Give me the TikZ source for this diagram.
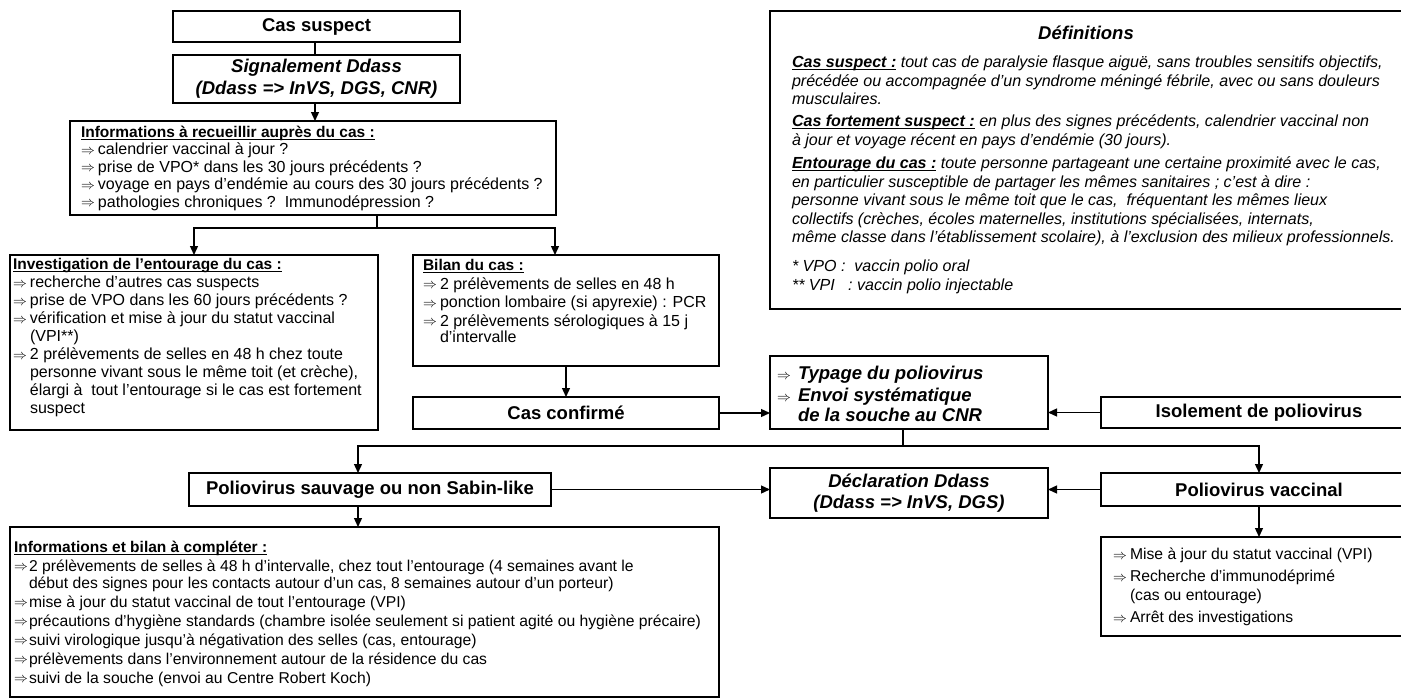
\documentclass[tikz,border=0pt]{standalone}
\usepackage{fontspec}
\setmainfont{Liberation Sans}
\usetikzlibrary{arrows.meta}
\newcommand\Hd{\fontsize{18.5}{21}\selectfont\bfseries}
\newcommand\Ra[1][17pt]{\makebox[#1][l]{\fontsize{16}{16}\selectfont\raisebox{0.5pt}{\scalebox{0.8}{$\Rightarrow$}}}}
\newcommand\ind{\hspace*{17pt}}
\newsavebox\ulbox
\newcommand\myul[1]{\sbox\ulbox{#1}\rlap{\rule[-2.2pt]{\wd\ulbox}{0.9pt}}\usebox\ulbox}
\newcommand\hdul[1]{{\fontsize{15.5}{15.5}\selectfont\bfseries\myul{#1}}}
\newcommand\dul[1]{\myul{\textbf{#1}}}
\tikzset{
  bx/.style={draw, line width=1.3pt, inner sep=0pt, outer sep=0pt, anchor=north west},
  ln/.style={line width=1.3pt},
  arr/.style={line width=1.3pt, -{Triangle[length=9pt,width=8pt]}},
}
\begin{document}
\begin{tikzpicture}[x=1pt,y=-1pt]
\fill[white] (0,0) rectangle (1401,699);
\useasboundingbox (0,0) rectangle (1401,699);

% helper coordinates
\coordinate (c315) at (315,0);
\coordinate (c555) at (555,0);
\coordinate (c358) at (358,0);
\coordinate (jA) at (377,228);
\coordinate (jB) at (903,446);

\node[bx, minimum width=287pt, minimum height=31pt, font=\Hd] (cs) at (173,11) {Cas suspect};
\node[bx, minimum width=287pt, minimum height=48pt, font=\Hd\itshape, align=center] (sig) at (173,55) {Signalement Ddass\\[1pt](Ddass => InVS, DGS, CNR)};

\node[bx, inner xsep=11pt] (info) at (70,121) {\parbox[c][94pt][t]{464pt}{\fontsize{16}{17.5}\selectfont
\begin{tabular}[t]{@{}l@{}}
\rule{0pt}{16.4pt}\hdul{Informations à recueillir auprès du cas :}\\
\Ra calendrier vaccinal à jour ?\\
\Ra prise de VPO* dans les 30 jours précédents ?\\
\Ra voyage en pays d’endémie au cours des 30 jours précédents ?\\
\Ra pathologies chroniques ?\ \ Immunodépression ?
\end{tabular}}};

\node[bx, inner xsep=3pt] (inv) at (10,255) {\parbox[c][175pt][t]{362pt}{\fontsize{16}{18}\selectfont
\begin{tabular}[t]{@{}l@{}}
\rule{0pt}{14.6pt}\hdul{Investigation de l’entourage du cas :}\\
\Ra recherche d’autres cas suspects\\
\Ra prise de VPO dans les 60 jours précédents ?\\
\Ra vérification et mise à jour du statut vaccinal\\
\ind (VPI**)\\
\Ra 2 prélèvements de selles en 48 h chez toute\\
\ind personne vivant sous le même toit (et crèche),\\
\ind élargi à\ \ tout l’entourage si le cas est fortement\\
\ind suspect
\end{tabular}}};

\node[bx, inner xsep=10pt] (bil) at (413,255) {\parbox[c][111pt][t]{286pt}{\fontsize{16}{16.5}\selectfont
\begin{tabular}[t]{@{}l@{}}
\rule{0pt}{15.4pt}\hdul{Bilan du cas :}\\[2pt]
\Ra 2 prélèvements de selles en 48 h\\[2pt]
\Ra ponction lombaire (si apyrexie) : PCR\\[2pt]
\Ra 2 prélèvements sérologiques à 15 j\\
\ind d’intervalle
\end{tabular}}};

\node[bx, minimum width=306pt, minimum height=32pt, font=\Hd] (conf) at (413,397) {Cas confirmé};

\node[bx, inner xsep=7pt] (typ) at (770,356) {\parbox[c][73pt][t]{264pt}{\fontsize{18.5}{19.5}\selectfont\bfseries\itshape
\begin{tabular}[t]{@{}l@{}}
\rule{0pt}{23.7pt}\Ra[21pt]Typage du poliovirus\\[2.5pt]
\Ra[21pt]Envoi systématique\\
\hspace*{21pt}de la souche au CNR
\end{tabular}}};

\node[bx, minimum width=316pt, minimum height=31pt, font=\Hd] (iso) at (1101,397) {Isolement de poliovirus};

\node[bx, inner xsep=22pt] (def) at (770,11) {\parbox[c][298pt][t]{620pt}{\fontsize{16.05}{18.5}\selectfont\itshape
\begin{tabular}[t]{@{}l@{}}
\rule{0pt}{28.7pt}\makebox[588pt]{\fontsize{18.5}{18.5}\selectfont\bfseries Définitions}\\[9.7pt]
\dul{Cas suspect :} tout cas de paralysie flasque aiguë, sans troubles sensitifs objectifs,\\
précédée ou accompagnée d’un syndrome méningé fébrile, avec ou sans douleurs\\
musculaires.\\[3.5pt]
\dul{Cas fortement suspect :} en plus des signes précédents, calendrier vaccinal non\\
à jour et voyage récent en pays d’endémie (30 jours).\\[5pt]
\dul{Entourage du cas :} toute personne partageant une certaine proximité avec le cas,\\
en particulier susceptible de partager les mêmes sanitaires ; c’est à dire :\\
personne vivant sous le même toit que le cas,\ \ fréquentant les mêmes lieux\\
collectifs (crèches, écoles maternelles, institutions spécialisées, internats,\\
même classe dans l’établissement scolaire), à l’exclusion des milieux professionnels.\\[10.5pt]
{*} VPO :\ \ vaccin polio oral\\
{*}{*} VPI\ \ \ : vaccin polio injectable
\end{tabular}}};

\node[bx, minimum width=362pt, minimum height=33pt, font=\Hd] (sau) at (189,473) {Poliovirus sauvage ou non Sabin-like};
\node[bx, minimum width=278pt, minimum height=50pt, font=\Hd\itshape, align=center] (decl) at (770,468) {Déclaration Ddass\\(Ddass => InVS, DGS)};
\node[bx, minimum width=316pt, minimum height=33pt, font=\Hd] (vac) at (1101,473) {Poliovirus vaccinal};

\node[bx, inner xsep=4pt] (fin) at (10,527) {\parbox[c][170pt][t]{701pt}{\fontsize{15.7}{16.8}\selectfont
\begin{tabular}[t]{@{}l@{}}
\rule{0pt}{25.4pt}\hdul{Informations et bilan à compléter :}\\[2.2pt]
\Ra[15pt]2 prélèvements de selles à 48 h d’intervalle, chez tout l’entourage (4 semaines avant le\\
\hspace*{15pt}début des signes pour les contacts autour d’un cas, 8 semaines autour d’un porteur)\\[2.2pt]
\Ra[15pt]mise à jour du statut vaccinal de tout l’entourage (VPI)\\[2.2pt]
\Ra[15pt]précautions d’hygiène standards (chambre isolée seulement si patient agité ou hygiène précaire)\\[2.2pt]
\Ra[15pt]suivi virologique jusqu’à négativation des selles (cas, entourage)\\[2.2pt]
\Ra[15pt]prélèvements dans l’environnement autour de la résidence du cas\\[2.2pt]
\Ra[15pt]suivi de la souche (envoi au Centre Robert Koch)
\end{tabular}}};

\node[bx, inner xsep=12pt] (vbx) at (1101,537) {\parbox[c][99pt][t]{292pt}{\fontsize{15.7}{19}\selectfont
\begin{tabular}[t]{@{}l@{}}
\rule{0pt}{22.7pt}\Ra Mise à jour du statut vaccinal (VPI)\\[3pt]
\Ra Recherche d’immunodéprimé\\
\ind (cas ou entourage)\\[3pt]
\Ra Arrêt des investigations
\end{tabular}}};

% connectors
\draw[ln] (cs.south -| c315) -- (sig.north -| c315);
\draw[arr] (sig.south -| c315) -- (info.north -| c315);
\draw[ln] (info.south -| jA) -- (jA);
\draw[arr] (jA) -| (inv.north);
\draw[arr] (jA) -| (bil.north -| c555);
\draw[arr] (bil.south) -- (conf.north);
\draw[arr] (conf.east) -- (conf.east -| typ.west);
\draw[arr] (iso.west) -- (iso.west -| typ.east);
\draw[ln] (typ.south -| jB) -- (jB);
\draw[arr] (jB) -| (sau.north -| c358);
\draw[arr] (jB) -| (vac.north);
\draw[arr] (sau.east) -- (sau.east -| decl.west);
\draw[arr] (vac.west) -- (vac.west -| decl.east);
\draw[arr] (sau.south -| c358) -- (fin.north -| c358);
\draw[arr] (vac.south) -- (vbx.north);
\end{tikzpicture}
\end{document}
